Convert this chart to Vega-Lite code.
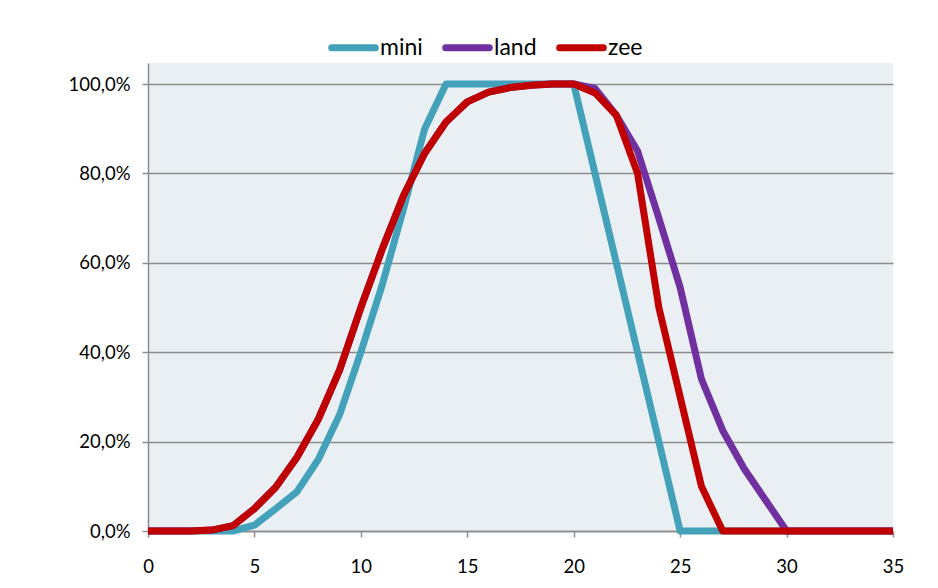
{
  "$schema": "https://vega.github.io/schema/vega-lite/v6.json",
  "width": 745,
  "height": 468,
  "autosize": {"type": "none"},
  "padding": {"left": 148, "top": 63, "right": 45, "bottom": 57},
  "background": "white",
  "config": {
    "locale": {"number": {"decimal": ",", "thousands": ".", "grouping": [3], "currency": ["", " €"]}},
    "view": {"fill": "#e9eff3", "stroke": null},
    "font": "Lato"
  },
  "data": {
    "values": [
      {"x": 0, "mini": 0, "land": 0, "zee": 0},
      {"x": 1, "mini": 0, "land": 0, "zee": 0},
      {"x": 2, "mini": 0, "land": 0, "zee": 0},
      {"x": 3, "mini": 0, "land": 0.002, "zee": 0.002},
      {"x": 4, "mini": 0, "land": 0.012, "zee": 0.012},
      {"x": 5, "mini": 0.013, "land": 0.05, "zee": 0.05},
      {"x": 6, "mini": 0.05, "land": 0.098, "zee": 0.098},
      {"x": 7, "mini": 0.088, "land": 0.165, "zee": 0.165},
      {"x": 8, "mini": 0.16, "land": 0.25, "zee": 0.25},
      {"x": 9, "mini": 0.26, "land": 0.36, "zee": 0.36},
      {"x": 10, "mini": 0.40, "land": 0.50, "zee": 0.50},
      {"x": 11, "mini": 0.55, "land": 0.63, "zee": 0.63},
      {"x": 12, "mini": 0.72, "land": 0.75, "zee": 0.75},
      {"x": 13, "mini": 0.90, "land": 0.845, "zee": 0.845},
      {"x": 14, "mini": 1.0, "land": 0.915, "zee": 0.915},
      {"x": 15, "mini": 1.0, "land": 0.96, "zee": 0.96},
      {"x": 16, "mini": 1.0, "land": 0.982, "zee": 0.982},
      {"x": 17, "mini": 1.0, "land": 0.992, "zee": 0.992},
      {"x": 18, "mini": 1.0, "land": 0.997, "zee": 0.997},
      {"x": 19, "mini": 1.0, "land": 1.0, "zee": 1.0},
      {"x": 20, "mini": 1.0, "land": 1.0, "zee": 1.0},
      {"x": 21, "mini": 0.8, "land": 0.99, "zee": 0.98},
      {"x": 22, "mini": 0.6, "land": 0.93, "zee": 0.93},
      {"x": 23, "mini": 0.4, "land": 0.85, "zee": 0.80},
      {"x": 24, "mini": 0.2, "land": 0.70, "zee": 0.50},
      {"x": 25, "mini": 0, "land": 0.545, "zee": 0.30},
      {"x": 26, "mini": 0, "land": 0.34, "zee": 0.10},
      {"x": 27, "mini": 0, "land": 0.225, "zee": 0},
      {"x": 28, "mini": 0, "land": 0.14, "zee": 0},
      {"x": 29, "mini": 0, "land": 0.07, "zee": 0},
      {"x": 30, "mini": 0, "land": 0, "zee": 0},
      {"x": 31, "mini": 0, "land": 0, "zee": 0},
      {"x": 32, "mini": 0, "land": 0, "zee": 0},
      {"x": 33, "mini": 0, "land": 0, "zee": 0},
      {"x": 34, "mini": 0, "land": 0, "zee": 0},
      {"x": 35, "mini": 0, "land": 0, "zee": 0}
    ]
  },
  "transform": [{"fold": ["mini", "land", "zee"], "as": ["series", "value"]}],
  "mark": {"type": "line", "strokeWidth": 7, "strokeJoin": "round", "strokeCap": "butt"},
  "encoding": {
    "x": {
      "field": "x", "type": "quantitative",
      "scale": {"domain": [0, 35], "nice": false, "zero": false},
      "axis": {
        "title": null, "values": [0, 5, 10, 15, 20, 25, 30, 35], "grid": false, "labelFlush": false,
        "domainColor": "#8c8c8c", "domainWidth": 1.5, "tickColor": "#8c8c8c", "tickWidth": 1.5,
        "tickSize": 6, "labelPadding": 20, "labelFontSize": 18.5, "labelColor": "#000000", "labelFont": "Lato"
      }
    },
    "y": {
      "field": "value", "type": "quantitative",
      "scale": {"domain": [0, 1.047], "nice": false},
      "axis": {
        "title": null, "values": [0, 0.2, 0.4, 0.6, 0.8, 1.0], "format": ".1%", "labelFlush": false,
        "grid": true, "gridColor": "#8c8c8c", "gridWidth": 1.5,
        "domainColor": "#8c8c8c", "domainWidth": 1.5, "tickColor": "#8c8c8c", "tickWidth": 1.5,
        "tickSize": 6, "labelPadding": 12, "labelFontSize": 18.5, "labelColor": "#000000", "labelFont": "Lato"
      }
    },
    "color": {
      "field": "series", "type": "nominal",
      "scale": {"domain": ["mini", "land", "zee"], "range": ["#43a2ba", "#7030a0", "#c00000"]},
      "legend": {
        "title": null, "orient": "none", "direction": "horizontal",
        "legendX": 180, "legendY": -41,
        "symbolType": "stroke", "symbolSize": 1900, "symbolStrokeWidth": 7,
        "labelFontSize": 23, "labelFont": "Lato", "labelColor": "#000000",
        "labelOffset": 1, "columnPadding": 8,
        "encode": {"symbols": {"update": {"strokeCap": {"value": "round"}}}}
      }
    }
  }
}
